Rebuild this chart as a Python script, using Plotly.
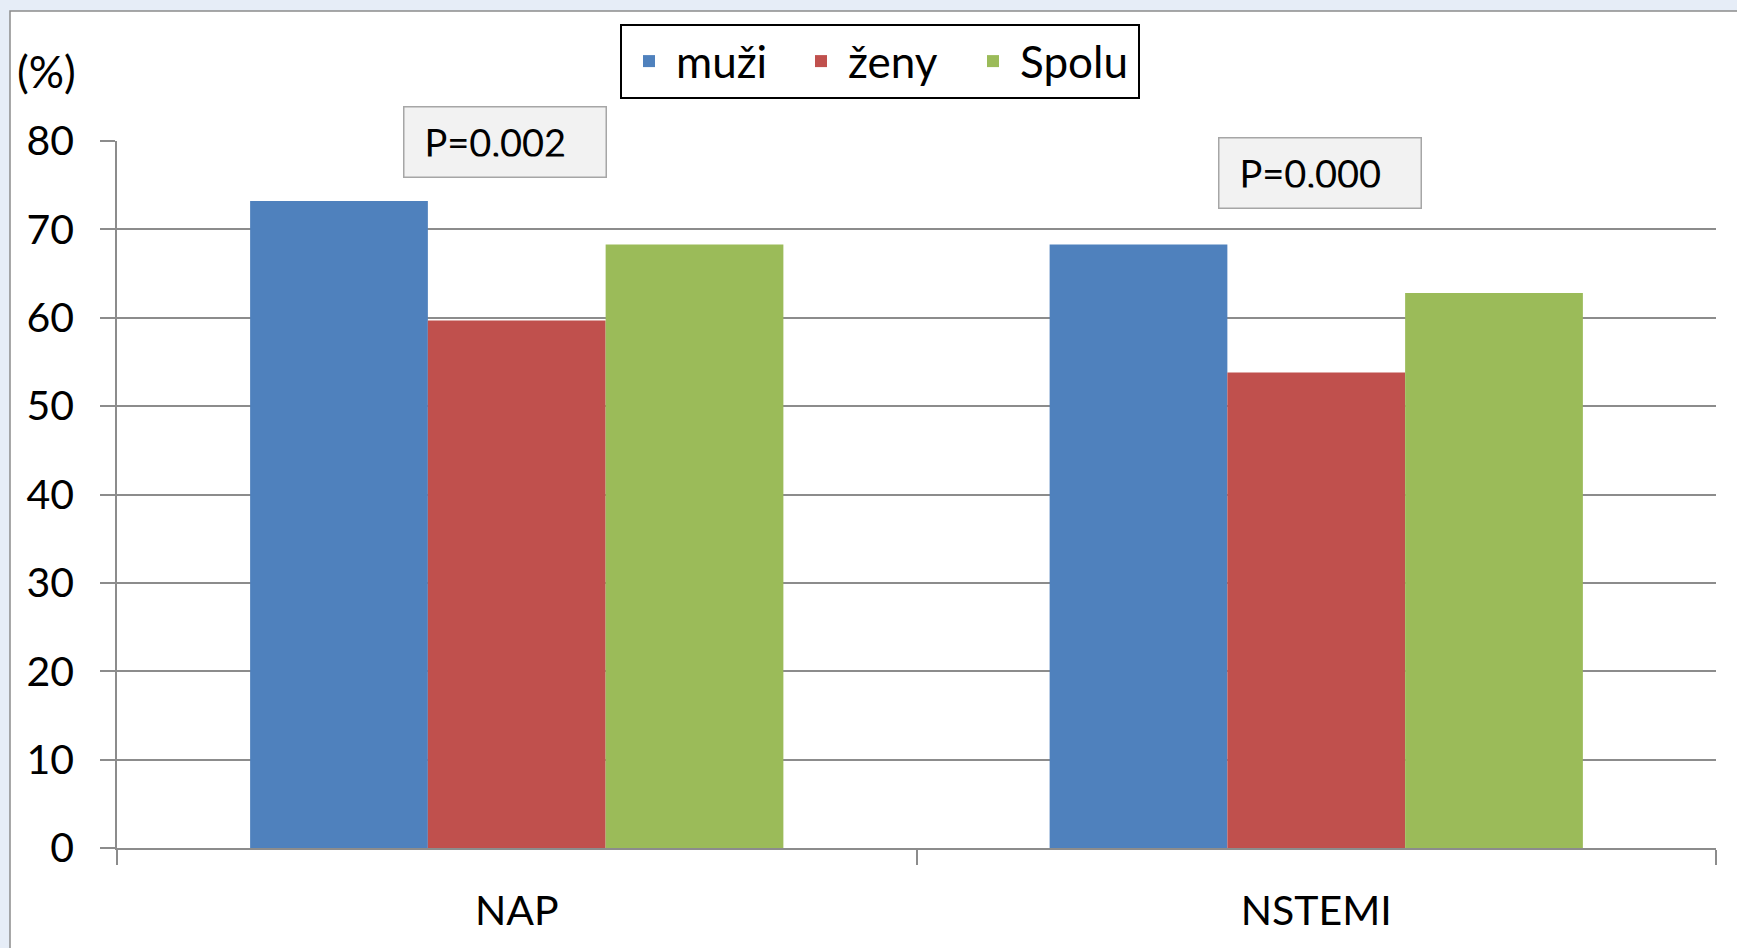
import plotly.graph_objects as go

categories = ["NAP", "NSTEMI"]
series_names = ["muži", "ženy", "Spolu"]
muzi = [73.2, 68.3]
zeny = [59.7, 53.8]
spolu = [68.3, 62.8]
colors = ["#4F81BD", "#C0504D", "#9BBB59"]
p_labels = ["P=0,002", "P=0,000"]
p_y = [79.9, 76.4]
p_shift = [-12, 4]
y_ticks = [0, 10, 20, 30, 40, 50, 60, 70, 80]

FONT = "Lato"
FS = 41
GRID = "#8C8C8C"

fig = go.Figure()
for name, vals, col in zip(series_names, [muzi, zeny, spolu], colors):
    fig.add_trace(go.Bar(x=categories, y=vals, name=name, marker=dict(color=col, line=dict(width=0))))

W, H = 1737, 948
ml, mr, mt, mb = 117, 21, 141, 100
pw, ph = W - ml - mr, H - mt - mb

def px_x(x):
    return (x - ml) / pw

def px_y(y):
    return (H - mb - y) / ph

fig.add_shape(type="rect", xref="paper", yref="paper", x0=px_x(10), x1=px_x(1800),
              y0=px_y(1000), y1=px_y(11), fillcolor="white",
              line=dict(color="#8C8C8C", width=1.5), layer="below")

for lab, yv, sh, cat in zip(p_labels, p_y, p_shift, categories):
    fig.add_annotation(x=cat, y=yv, xref="x", yref="y", text=lab, showarrow=False,
                       xshift=sh, align="left", width=161, height=29, borderpad=20,
                       bgcolor="#F2F2F2", bordercolor="#A6A6A6", borderwidth=1.5,
                       font=dict(family=FONT, size=38, color="black"))

fig.add_annotation(x=px_x(46), y=px_y(71), xref="paper", yref="paper", text="(%)",
                   showarrow=False, xanchor="center", yanchor="middle",
                   font=dict(family=FONT, size=44, color="black"))

fig.update_layout(
    template="none",
    width=W, height=H,
    margin=dict(l=ml, r=mr, t=mt, b=mb, pad=0, autoexpand=False),
    paper_bgcolor="#E6EDF7",
    plot_bgcolor="white",
    barmode="group", bargap=0.333, bargroupgap=0,
    font=dict(family=FONT, size=FS, color="black"),
    legend=dict(orientation="h", x=px_x(880), xanchor="center", y=px_y(24), yanchor="top",
                bordercolor="black", borderwidth=2, bgcolor="white",
                itemwidth=44, entrywidth=113, entrywidthmode="pixels",
                font=dict(family=FONT, size=44, color="black")),
    xaxis=dict(showgrid=False, showline=True, linecolor=GRID, linewidth=1.5, automargin=False,
               ticks="outside", tickson="boundaries", ticklen=15, tickcolor=GRID, tickwidth=1.5,
               ticklabelstandoff=26, tickfont=dict(family=FONT, size=FS, color="black"),
               zeroline=False),
    yaxis=dict(range=[0, 80], tickvals=y_ticks, showgrid=True, gridcolor=GRID, gridwidth=1.5,
               showline=True, linecolor=GRID, linewidth=1.5, ticks="outside", ticklen=15,
               tickcolor=GRID, tickwidth=1.5, ticklabelstandoff=18, zeroline=False, automargin=False,
               tickfont=dict(family=FONT, size=FS, color="black")),
)

fig.write_html("out.html", config={"displayModeBar": False},
               post_script="document.body.style.margin='0';document.body.style.overflow='hidden';")
